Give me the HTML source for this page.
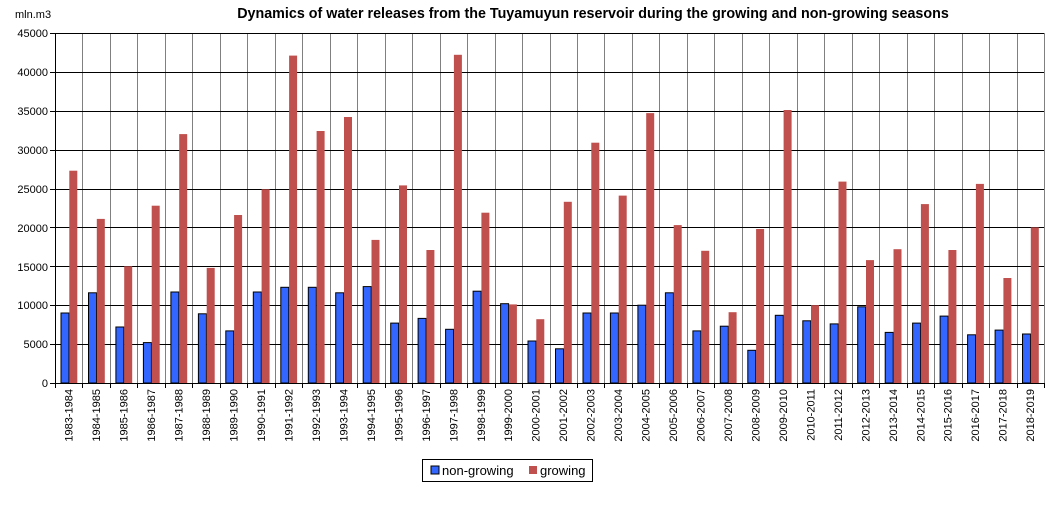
<!DOCTYPE html>
<html><head><meta charset="utf-8"><style>
body{margin:0;background:#fff;}
svg{display:block;font-family:"Liberation Sans",Arial,sans-serif;}
</style></head><body>
<svg id="s" width="1064" height="518" xmlns="http://www.w3.org/2000/svg">
<rect width="1064" height="518" fill="#fff"/>
<text x="593" y="18" text-anchor="middle" font-size="14.3" font-weight="bold">Dynamics of water releases from the Tuyamuyun reservoir during the growing and non-growing seasons</text>
<text x="15" y="18" font-size="11">mln.m3</text>
<g id="grid"></g>
<g id="bars"></g>
<g font-size="11" text-anchor="end">
<text x="48" y="37">45000</text><text x="48" y="76">40000</text><text x="48" y="115">35000</text>
<text x="48" y="154">30000</text><text x="48" y="193">25000</text><text x="48" y="232">20000</text>
<text x="48" y="271">15000</text><text x="48" y="309">10000</text><text x="48" y="348">5000</text>
<text x="48" y="387">0</text>
</g>
<g font-size="11" text-anchor="end">
<text transform="translate(72.7,389) rotate(-90)">1983-1984</text>
<text transform="translate(100.2,389) rotate(-90)">1984-1985</text>
<text transform="translate(127.6,389) rotate(-90)">1985-1986</text>
<text transform="translate(155.1,389) rotate(-90)">1986-1987</text>
<text transform="translate(182.6,389) rotate(-90)">1987-1988</text>
<text transform="translate(210.1,389) rotate(-90)">1988-1989</text>
<text transform="translate(237.5,389) rotate(-90)">1989-1990</text>
<text transform="translate(265.0,389) rotate(-90)">1990-1991</text>
<text transform="translate(292.5,389) rotate(-90)">1991-1992</text>
<text transform="translate(319.9,389) rotate(-90)">1992-1993</text>
<text transform="translate(347.4,389) rotate(-90)">1993-1994</text>
<text transform="translate(374.9,389) rotate(-90)">1994-1995</text>
<text transform="translate(402.3,389) rotate(-90)">1995-1996</text>
<text transform="translate(429.8,389) rotate(-90)">1996-1997</text>
<text transform="translate(457.3,389) rotate(-90)">1997-1998</text>
<text transform="translate(484.8,389) rotate(-90)">1998-1999</text>
<text transform="translate(512.2,389) rotate(-90)">1999-2000</text>
<text transform="translate(539.7,389) rotate(-90)">2000-2001</text>
<text transform="translate(567.2,389) rotate(-90)">2001-2002</text>
<text transform="translate(594.6,389) rotate(-90)">2002-2003</text>
<text transform="translate(622.1,389) rotate(-90)">2003-2004</text>
<text transform="translate(649.6,389) rotate(-90)">2004-2005</text>
<text transform="translate(677.0,389) rotate(-90)">2005-2006</text>
<text transform="translate(704.5,389) rotate(-90)">2006-2007</text>
<text transform="translate(732.0,389) rotate(-90)">2007-2008</text>
<text transform="translate(759.5,389) rotate(-90)">2008-2009</text>
<text transform="translate(786.9,389) rotate(-90)">2009-2010</text>
<text transform="translate(814.4,389) rotate(-90)">2010-2011</text>
<text transform="translate(841.9,389) rotate(-90)">2011-2012</text>
<text transform="translate(869.3,389) rotate(-90)">2012-2013</text>
<text transform="translate(896.8,389) rotate(-90)">2013-2014</text>
<text transform="translate(924.3,389) rotate(-90)">2014-2015</text>
<text transform="translate(951.7,389) rotate(-90)">2015-2016</text>
<text transform="translate(979.2,389) rotate(-90)">2016-2017</text>
<text transform="translate(1006.7,389) rotate(-90)">2017-2018</text>
<text transform="translate(1034.2,389) rotate(-90)">2018-2019</text>
</g>
<rect x="422.5" y="459.5" width="170" height="22" fill="#fff" stroke="#000"/>
<rect x="431" y="466" width="8" height="8" fill="#3366ff" stroke="#000"/>
<text x="442" y="475" font-size="13">non-growing</text>
<rect x="529" y="466" width="8" height="8" fill="#c0504d"/>
<text x="540" y="475" font-size="13">growing</text>
</svg>
<script>
var ns="http://www.w3.org/2000/svg";
function el(p,t,a){var e=document.createElementNS(ns,t);for(var k in a)e.setAttribute(k,a[k]);p.appendChild(e);return e;}
var L=55,R=1044,T=33,B=383,n=36,w=(R-L)/n,k=(B-T)/45000;
var g=document.getElementById('grid'),b=document.getElementById('bars');
for(var i=1;i<n;i++){var x=Math.round(L+i*w)+.5;el(g,'line',{x1:x,x2:x,y1:T,y2:B,stroke:'#808080'});}
el(g,'line',{x1:R+.5,x2:R+.5,y1:T,y2:B,stroke:'#808080'});
for(var v=5000;v<=45000;v+=5000){var y=Math.round(B-v*k)+.5;el(g,'line',{x1:L,x2:R,y1:y,y2:y,stroke:'#000'});}
for(var v=0;v<=45000;v+=5000){var y=Math.round(B-v*k)+.5;el(g,'line',{x1:L-5,x2:L,y1:y,y2:y,stroke:'#000'});}
for(var i=0;i<=n;i++){var x=Math.round(L+i*w)+.5;el(g,'line',{x1:x,x2:x,y1:B,y2:B+5,stroke:'#000'});}
var nb=[9000,11600,7200,5200,11700,8900,6700,11700,12300,12300,11600,12400,7700,8300,6900,11800,10200,5400,4400,9000,9000,10000,11600,6700,7300,4200,8700,8000,7600,9800,6500,7700,8600,6200,6800,6300];
var gr=[27300,21100,15000,22800,32000,14800,21600,24900,42100,32400,34200,18400,25400,17100,42200,21900,10100,8200,23300,30900,24100,34700,20300,17000,9100,19800,35100,10000,25900,15800,17200,23000,17100,25600,13500,20000];
for(var i=0;i<n;i++){var x=L+i*w;
var h=nb[i]*k;el(b,'rect',{x:(x+6).toFixed(1),y:(B-h).toFixed(1),width:8,height:h.toFixed(1),fill:'#3366ff',stroke:'#000','stroke-width':1});
h=gr[i]*k;el(b,'rect',{x:(x+14.3).toFixed(1),y:(B-h).toFixed(1),width:8,height:h.toFixed(1),fill:'#c0504d'});}
el(b,'line',{x1:L+.5,x2:L+.5,y1:T,y2:B,stroke:'#000'});
el(b,'line',{x1:L,x2:R,y1:B+.5,y2:B+.5,stroke:'#000'});
</script>
</body></html>
